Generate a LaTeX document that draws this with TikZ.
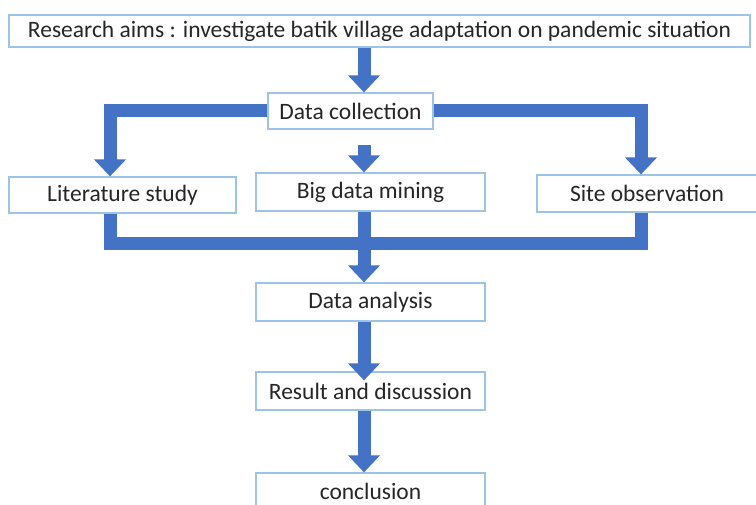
\documentclass[tikz,border=0pt]{standalone}
\usepackage{fontspec}
\setmainfont{Carlito}
\usetikzlibrary{arrows.meta}
\definecolor{arrowblue}{HTML}{4472C4}
\definecolor{boxedge}{HTML}{9DC3E6}
\begin{document}
\begin{tikzpicture}[x=1pt,y=-1pt,
  box/.style={draw=boxedge, line width=1.2pt, fill=white, inner sep=0pt,
    font=\fontsize{23.5}{28}\selectfont, text=black!85},
  flow/.style={draw=arrowblue, line width=13pt, line join=miter,
    -{Triangle[width=31pt,length=17pt]}},
  bar/.style={draw=arrowblue, line width=13pt, line join=miter}]
\useasboundingbox (0,0) rectangle (756,505);
% nodes
\node[box, minimum width=741pt, minimum height=32pt] (top) at (379.5,31)
  {Research aims : investigate batik village adaptation on pandemic situation};
\node[box, minimum width=165pt, minimum height=36pt] (dc) at (350.5,111) {Data collection};
\node[box, minimum width=227pt, minimum height=36pt] (lit) at (122.5,195) {Literature study};
\node[box, minimum width=229pt, minimum height=38pt] (bd) at (370.5,192) {Big data mining};
\node[box, minimum width=226pt, minimum height=37pt] (site) at (650,193.5) {\hspace*{-6pt}Site observation};
\node[box, minimum width=229pt, minimum height=38pt] (da) at (370.5,302) {Data analysis};
\node[box, minimum width=229pt, minimum height=38pt] (rd) at (370.5,391) {Result and discussion};
\node[box, minimum width=229pt, minimum height=36pt] (conc) at (370.5,491) {conclusion};
% guide coordinates
\coordinate (spine) at (364,0);
\coordinate (lx) at (110,0);
\coordinate (rx) at (641,0);
\coordinate (jn) at (364,243.5);
\coordinate (mstart) at (364,145);
% connectors
\draw[flow] (top.south -| spine) -- (dc.north -| spine);
\draw[flow] (dc.west) -| (lit.north -| lx);
\draw[flow] (dc.east) -| (site.north -| rx);
\draw[flow] (mstart) -- (bd.north -| spine);
\draw[bar] (lit.south -| lx) |- (jn) -| (site.south -| rx);
\draw[flow] (bd.south -| spine) -- (da.north -| spine);
\draw[flow, shorten >=-9pt] (da.south -| spine) -- (rd.north -| spine);
\draw[flow] (rd.south -| spine) -- (conc.north -| spine);
\end{tikzpicture}
\end{document}
